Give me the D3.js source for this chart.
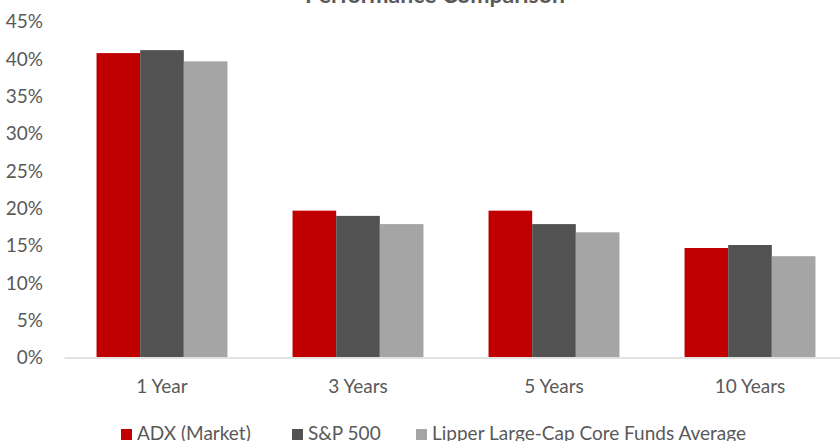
<!DOCTYPE html>
<html>
<head>
<meta charset="utf-8">
<script src="https://cdn.jsdelivr.net/npm/d3@7"></script>
<style>
  body { margin: 0; background: #fff; }
  svg { display: block; }
  text { font-family: Lato, "Open Sans", sans-serif; fill: #595959; }
</style>
</head>
<body>
<div id="chart"></div>
<script>
// chart data
var categories = ['1 Year', '3 Years', '5 Years', '10 Years'];
var seriesNames = ['ADX (Market)', 'S&P 500', 'Lipper Large-Cap Core Funds Average'];
var seriesColors = ['#c00000', '#525252', '#a5a5a5'];
var adx = [40.7, 19.6, 19.6, 14.6];
var sp500 = [41.1, 18.9, 17.8, 15.0];
var lipper = [39.6, 17.8, 16.7, 13.5];
var yTicks = [0, 5, 10, 15, 20, 25, 30, 35, 40, 45];

var W = 840, H = 441;
var plot = {left: 64, right: 848, top: 21, bottom: 357};

var svg = d3.select('#chart').append('svg')
  .attr('width', W).attr('height', H);

var x = d3.scaleBand()
  .domain(categories)
  .range([plot.left, plot.right])
  .paddingInner(0.332)
  .paddingOuter(0.166);

var xs = d3.scaleBand()
  .domain(d3.range(seriesNames.length))
  .range([0, x.bandwidth()]);

var y = d3.scaleLinear()
  .domain([0, 45])
  .range([plot.bottom, plot.top]);

// title (cut off at top like the original)
svg.append('text')
  .attr('x', 435).attr('y', 3)
  .attr('text-anchor', 'middle')
  .style('font-size', '23px')
  .style('font-weight', 'bold')
  .text('Performance Comparison');

// y axis labels
var yAxis = d3.axisLeft(y)
  .tickValues(yTicks)
  .tickFormat(function(d) { return d + '%'; })
  .tickSize(0)
  .tickPadding(0);

var yg = svg.append('g')
  .attr('transform', 'translate(' + 43 + ',0)')
  .call(yAxis);
yg.select('.domain').remove();
yg.selectAll('text').style('font-size', '19px').attr('dy', '0.36em');

// bars
var table = [adx, sp500, lipper];
var groups = svg.append('g').selectAll('g')
  .data(categories)
  .enter().append('g')
  .attr('transform', function(d) { return 'translate(' + x(d) + ',0)'; });

groups.selectAll('rect')
  .data(function(d, i) {
    return table.map(function(s, j) { return {s: j, v: s[i]}; });
  })
  .enter().append('rect')
  .attr('x', function(d) { return xs(d.s); })
  .attr('width', xs.bandwidth())
  .attr('y', function(d) { return y(d.v); })
  .attr('height', function(d) { return y(0) - y(d.v); })
  .attr('fill', function(d) { return seriesColors[d.s]; });

// x axis
var xAxis = d3.axisBottom(x).tickSize(0).tickPadding(0);
var xg = svg.append('g')
  .attr('transform', 'translate(0,' + (plot.bottom + 0.5) + ')')
  .call(xAxis);
xg.select('.domain').attr('stroke', '#d9d9d9').attr('stroke-width', 1.5);
xg.selectAll('text').style('font-size', '19px').attr('dy', 0).attr('y', 35);

// legend
var legendX = [121, 292, 416];
var lg = svg.append('g').selectAll('g')
  .data(seriesNames)
  .enter().append('g')
  .attr('transform', function(d, i) { return 'translate(' + legendX[i] + ',429)'; });
lg.append('rect')
  .attr('width', 11).attr('height', 11)
  .attr('fill', function(d, i) { return seriesColors[i]; });
lg.append('text')
  .attr('x', 16).attr('y', 11)
  .style('font-size', '19px')
  .text(function(d) { return d; });
</script>
</body>
</html>
